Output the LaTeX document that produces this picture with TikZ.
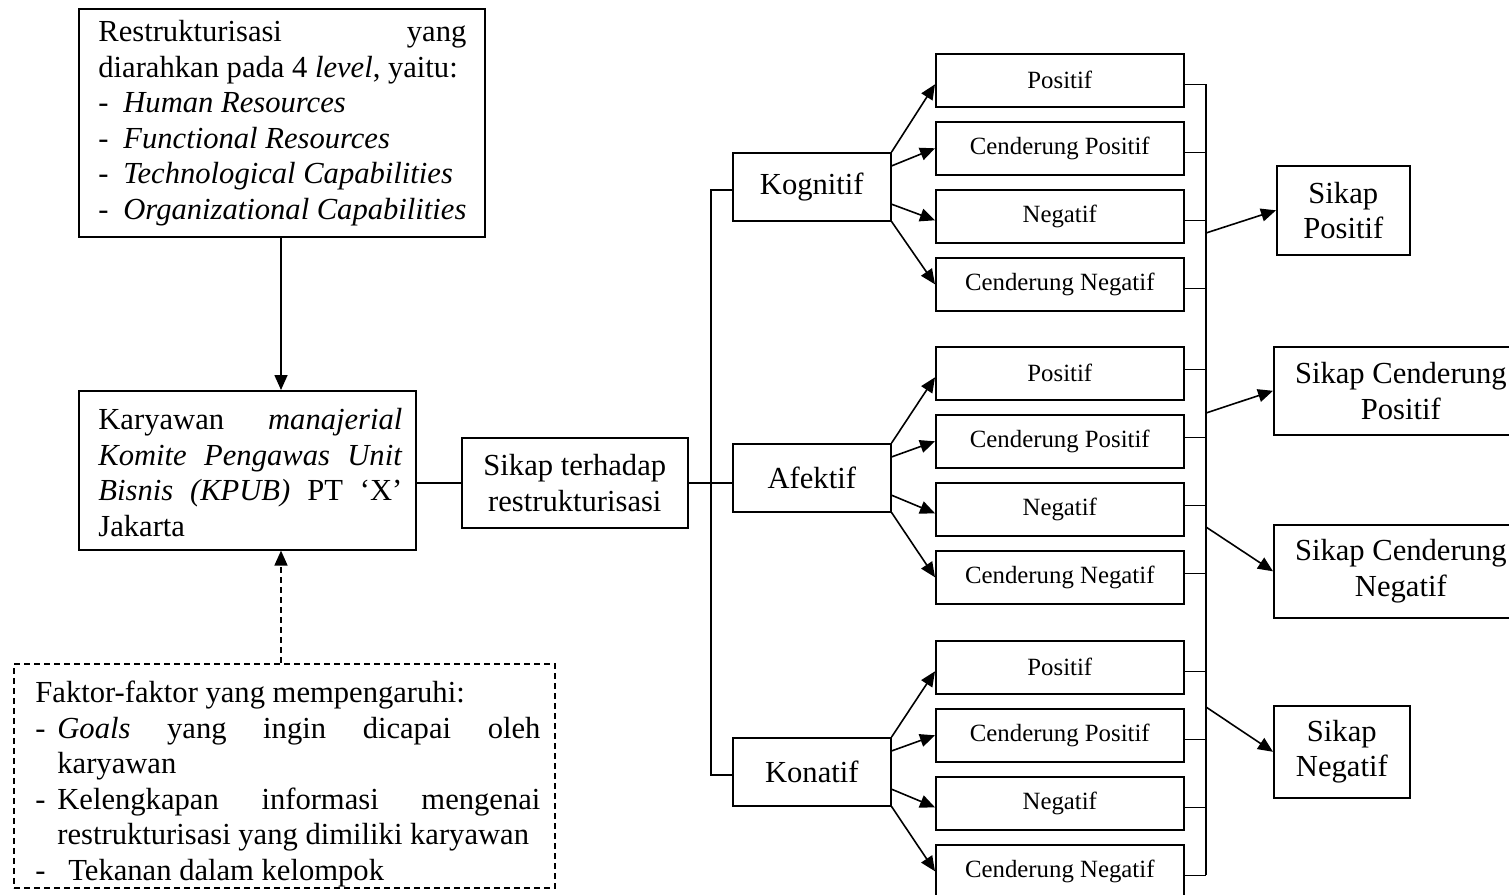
\documentclass[tikz,border=0pt]{standalone}
\usepackage{fontspec}
\setmainfont{Liberation Serif}
\usetikzlibrary{arrows.meta,calc}
\newcommand\bigf{\fontsize{15.3}{17.75}\selectfont}
\newcommand\smallf{\fontsize{12.4}{15}\selectfont}
\tikzset{
  bx/.style 2 args={draw, line width=0.8pt, inner sep=0pt, anchor=north west,
    minimum width=#1*0.5pt, minimum height=#2*0.5pt},
  txt/.style={inner sep=0pt, anchor=north west, align=flush left, font=\bigf},
  arr/.style={line width=0.8pt, -{Triangle[length=7.5pt,width=6.5pt]}},
  conn/.style={line width=0.8pt},
  dsh/.style={dash pattern=on 3pt off 2pt},
}
\begin{document}
\begin{tikzpicture}[x=0.5pt,y=-0.5pt]
\useasboundingbox (0,0) rectangle (1509,894);

% left column
\node[bx={406}{228}] (top) at (78,8) {};
\node[txt, text width=184pt] (toptxt) at (98,20) {\spaceskip=0pt\xspaceskip=0pt
\makebox[184pt][s]{Restrukturisasi yang}\\
diarahkan pada 4 \textit{level}, yaitu:\\
\makebox[12.5pt][l]{-}\textit{Human Resources}\\
\makebox[12.5pt][l]{-}\textit{Functional Resources}\\
\makebox[12.5pt][l]{-}\textit{Technological Capabilities}\\
\makebox[12.5pt][l]{-}\textit{Organizational Capabilities}};

\node[bx={337}{159}] (kar) at (78,390) {};
\node[txt, text width=152pt] (kartxt) at (98,408) {\spaceskip=0pt\xspaceskip=0pt
\makebox[152pt][s]{Karyawan \textit{manajerial}}\\
\makebox[152pt][s]{\textit{Komite Pengawas Unit}}\\
\makebox[152pt][s]{\textit{Bisnis (KPUB)} PT `X'}\\
Jakarta};

\node[bx={541}{224}, dsh] (fac) at (13,663) {};
\node[txt, text width=253pt] (factxt) at (35,681) {\spaceskip=0pt\xspaceskip=0pt
Faktor-faktor yang mempengaruhi:\\
\makebox[11pt][l]{-}\makebox[241.5pt][s]{\textit{Goals} yang ingin dicapai oleh}\\
\hspace*{11pt}karyawan\\
\makebox[11pt][l]{-}\makebox[241.5pt][s]{Kelengkapan informasi mengenai}\\
\hspace*{11pt}restrukturisasi yang dimiliki karyawan\\
\makebox[16.5pt][l]{-}Tekanan dalam kelompok};

\node[bx={226}{90}, font=\bigf, align=flush center] (sik) at (461,437) {Sikap terhadap\\restrukturisasi};

\coordinate (ax) at (281,0);
\coordinate (busL) at (711,0);
\coordinate (busR) at (1206,0);

\draw[arr] (top.south -| ax) -- (kar.north -| ax);
\draw[arr, dsh] (fac.north -| ax) -- (kar.south -| ax);
\draw[conn] (sik.west -| kar.east) -- (sik.west);

% groups
\foreach \g/\name/\ty/\ky/\sh in {kog/Kognitif/53/152/-2pt, afe/Afektif/346/443/2pt, kon/Konatif/640/737/-2pt}{
  \node[bx={158}{68}, font=\bigf] (\g) at (732,\ky) {\name};
  \foreach \i/\lab in {1/Positif, 2/Cenderung Positif, 3/Negatif, 4/Cenderung Negatif}{
    \node[bx={248}{53}, font=\smallf] (\g\i) at (935,{\ty+68*(\i-1)}) {\lab};
    \draw[conn] ([yshift=\sh]\g\i.east) -- ([yshift=\sh]\g\i.east -| busR);
  }
  \draw[arr] (\g.north east) -- ([yshift=-2pt]\g1.west);
  \draw[arr] ($(\g.north east)!0.2!(\g.south east)$) -- (\g2.west);
  \draw[arr] ($(\g.north east)!0.75!(\g.south east)$) -- ([yshift=-2pt]\g3.west);
  \draw[arr] (\g.south east) -- (\g4.west);
}

\draw[conn] (sik.east) -- (sik.east -| afe.west);
\draw[conn] ([yshift=-1.5pt]kog.west) -- ([yshift=-1.5pt]kog.west -| busL)
  -- ([yshift=-1.5pt]kon.west -| busL) -- ([yshift=-1.5pt]kon.west);
\draw[conn] ([yshift=-2pt]kog1.east -| busR) -- ([yshift=-2pt]kon4.east -| busR);

% results
\node[bx={133}{89}, font=\bigf, align=flush center] (rp) at (1276,165) {Sikap\\Positif};
\node[bx={254}{88}, font=\bigf, align=flush center] (rcp) at (1273,346) {Sikap Cenderung\\Positif};
\node[bx={254}{93}, font=\bigf, align=flush center] (rcn) at (1273,524) {Sikap Cenderung\\Negatif};
\node[bx={136}{92}, font=\bigf, align=flush center] (rn) at (1273,705) {Sikap\\Negatif};

\coordinate (b1) at (1206,233);
\coordinate (b2) at (1206,413);
\coordinate (b3) at (1206,527);
\coordinate (b4) at (1206,707);
\draw[arr] (b1) -- (rp.west);
\draw[arr] (b2) -- (rcp.west);
\draw[arr] (b3) -- (rcn.west);
\draw[arr] (b4) -- (rn.west);
\end{tikzpicture}
\end{document}
